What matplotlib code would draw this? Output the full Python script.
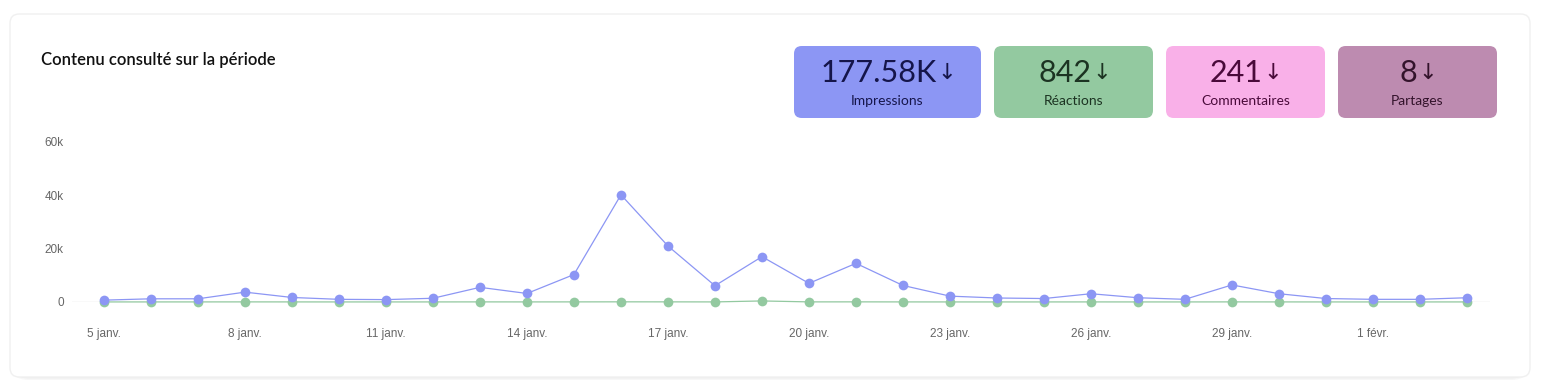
import matplotlib.pyplot as plt
from matplotlib.patches import FancyBboxPatch

# data (one point per day, 5 janv. -> 3 févr.)
days = list(range(30))
impressions = [700, 1200, 1200, 3700, 1700, 1000, 900, 1400, 5500, 3200,
               10300, 40200, 21000, 6100, 17000, 7000, 14500, 6200, 2200, 1500,
               1300, 3100, 1600, 1000, 6400, 3100, 1300, 1000, 1000, 1600]
reactions = [20, 25, 30, 40, 30, 20, 20, 25, 40, 30,
             40, 60, 50, 30, 400, 40, 50, 30, 20, 20,
             20, 30, 20, 20, 40, 30, 20, 20, 20, 25]
tick_pos = [0, 3, 6, 9, 12, 15, 18, 21, 24, 27]
tick_labels = ["5 janv.", "8 janv.", "11 janv.", "14 janv.", "17 janv.",
               "20 janv.", "23 janv.", "26 janv.", "29 janv.", "1 févr."]
kpi_values = ["177.58K", "842", "241", "8"]
kpi_names = ["Impressions", "Réactions", "Commentaires", "Partages"]

W, H = 1541, 391
FONT = ["Lato", "DejaVu Sans"]
TICK_FONT = ["Liberation Sans", "DejaVu Sans"]
BLUE = "#8c96f4"
GREEN = "#93c9a0"

fig = plt.figure(figsize=(W / 100, H / 100), dpi=100)
fig.patch.set_facecolor("white")


def px(x, y):
    # pixel coords (top-left origin) -> figure fraction
    return x / W, 1 - y / H


# card with soft shadow
for off, alpha in [(3, 0.03), (1.5, 0.04)]:
    sh = FancyBboxPatch((10 / W, (H - 377 - off) / H), 1520 / W, 363 / H,
                        boxstyle="round,pad=0,rounding_size=0.012",
                        transform=fig.transFigure, facecolor="black",
                        edgecolor="none", alpha=alpha, mutation_aspect=W / H,
                        zorder=-10)
    fig.patches.append(sh)
card = FancyBboxPatch((10 / W, (H - 377) / H), 1520 / W, 363 / H,
                      boxstyle="round,pad=0,rounding_size=0.006",
                      transform=fig.transFigure, facecolor="white",
                      edgecolor="#f0f0f0", linewidth=1, mutation_aspect=W / H,
                      zorder=-9)
fig.patches.append(card)

fig.text(*px(41, 60), "Contenu consulté sur la période", fontsize=12,
         family=FONT, color="#111111", va="center", ha="left",
         fontweight="semibold")

# KPI boxes
boxes = [(794, 187, "#8c96f4", "#15154a"),
         (994, 159, "#93c9a0", "#1c3322"),
         (1166, 159, "#f9b0e8", "#4a0a3a"),
         (1338, 159, "#bd8bb0", "#33132b")]
fig.canvas.draw()
for (bx, bw, col, tcol), val, name in zip(boxes, kpi_values, kpi_names):
    p = FancyBboxPatch((bx / W, (H - 118) / H), bw / W, 72 / H,
                       boxstyle="round,pad=0,rounding_size=0.005",
                       transform=fig.transFigure, facecolor=col,
                       edgecolor="none", mutation_aspect=W / H, zorder=-8)
    fig.patches.append(p)
    cx = bx + bw / 2
    t = fig.text(*px(cx - 9, 73), val, fontsize=22, family=FONT,
                 color=tcol, ha="center", va="center")
    # arrow drawn right after the number
    bb = t.get_window_extent(renderer=fig.canvas.get_renderer())
    fig.text((bb.x1 + 1) / W, (bb.y0 + bb.height / 2) / H, "↓",
             fontsize=16, family=["DejaVu Sans"], color=tcol,
             ha="left", va="center")
    fig.text(*px(cx, 101), name, fontsize=10, family=FONT,
             color=tcol, ha="center", va="center")

# chart axes
ax = fig.add_axes([72 / W, (H - 302) / H, 1418 / W, 160 / H])
ax.plot(days, impressions, color=BLUE, linewidth=0.9, marker="o",
        markersize=7, markeredgewidth=0, clip_on=False, zorder=3)
ax.plot(days, reactions, color=GREEN, linewidth=0.9, marker="o",
        markersize=7, markeredgewidth=0, clip_on=False, zorder=2)
ax.axhline(0, color="#e3e3e3", linewidth=1, zorder=1)
ax.set_xlim(-0.68, 29.49)
ax.set_ylim(0, 60000)
ax.set_yticks([0, 20000, 40000, 60000])
ax.set_yticklabels(["0", "20k", "40k", "60k"])
ax.set_xticks(tick_pos)
ax.set_xticklabels(tick_labels)
for s in ax.spines.values():
    s.set_visible(False)
ax.tick_params(length=0, labelsize=8.5, colors="#666666")
ax.tick_params(axis="x", pad=19)
ax.tick_params(axis="y", pad=6)
for lbl in ax.get_xticklabels() + ax.get_yticklabels():
    lbl.set_family(TICK_FONT)
ax.set_facecolor("none")

fig.savefig("out.png", dpi=100)
